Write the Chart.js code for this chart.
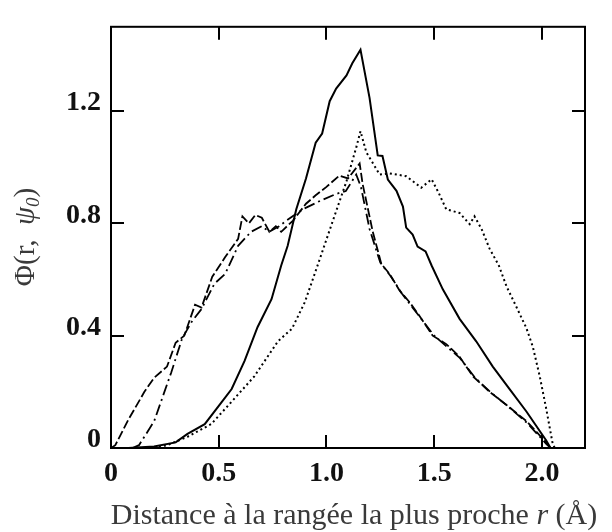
<!DOCTYPE html>
<html>
<head>
<meta charset="utf-8">
<script src="https://cdn.jsdelivr.net/npm/chart.js@4.4.0/dist/chart.umd.min.js"></script>
<style>
  html, body { margin: 0; padding: 0; background: #fff; }
  #wrap { width: 612px; height: 532px; }
</style>
</head>
<body>
<div id="wrap"><canvas id="myChart" width="612" height="532"></canvas></div>
<script>
// axis ticks
const xTicks = [0, 0.5, 1.0, 1.5, 2.0];
const xTickLabels = ['0', '0.5', '1.0', '1.5', '2.0'];
const yTicks = [0, 0.4, 0.8, 1.2];
const yTickLabels = ['0', '0.4', '0.8', '1.2'];

// solid curve, tallest peak
const xTall = [0.08, 0.2, 0.3, 0.355, 0.435, 0.51, 0.56, 0.62, 0.68, 0.745, 0.79, 0.82, 0.86, 0.905, 0.95, 0.98, 1.015, 1.045, 1.093, 1.12, 1.158, 1.2, 1.238, 1.26, 1.285, 1.325, 1.355, 1.37, 1.4, 1.423, 1.46, 1.488, 1.54, 1.618, 1.695, 1.772, 1.85, 1.928, 2.02, 2.04];
const yTall = [0, 0.005, 0.02, 0.05, 0.085, 0.16, 0.21, 0.31, 0.43, 0.53, 0.65, 0.72, 0.85, 0.96, 1.087, 1.12, 1.235, 1.28, 1.327, 1.37, 1.418, 1.247, 1.042, 1.04, 0.956, 0.916, 0.86, 0.785, 0.76, 0.717, 0.7, 0.65, 0.565, 0.46, 0.38, 0.29, 0.21, 0.13, 0.027, 0];

// dotted curve
const xDot = [0.2, 0.26, 0.355, 0.465, 0.56, 0.665, 0.775, 0.84, 0.9, 0.97, 1.03, 1.093, 1.14, 1.158, 1.185, 1.247, 1.293, 1.37, 1.44, 1.488, 1.52, 1.556, 1.618, 1.665, 1.687, 1.72, 1.757, 1.8, 1.836, 1.88, 1.928, 1.958, 1.99, 2.02, 2.05, 2.06];
const yDot = [0, 0.01, 0.04, 0.085, 0.165, 0.255, 0.38, 0.425, 0.52, 0.675, 0.81, 0.95, 1.075, 1.128, 1.053, 0.974, 0.978, 0.968, 0.927, 0.957, 0.91, 0.85, 0.837, 0.797, 0.825, 0.78, 0.71, 0.65, 0.575, 0.505, 0.427, 0.36, 0.255, 0.14, 0.015, 0];

// dashed curve from the origin
const xDash = [0, 0.02, 0.08, 0.155, 0.2, 0.26, 0.3, 0.34, 0.39, 0.42, 0.47, 0.53, 0.59, 0.61, 0.64, 0.67, 0.7, 0.735, 0.765, 0.79, 0.845, 0.905, 0.95, 1.0, 1.06, 1.1, 1.154, 1.168, 1.215, 1.255, 1.293, 1.34, 1.385, 1.432, 1.493, 1.556, 1.618, 1.68, 1.757, 1.836, 1.928, 2.02, 2.04];
const yDash = [0, 0.01, 0.1, 0.2, 0.25, 0.29, 0.375, 0.4, 0.51, 0.5, 0.61, 0.68, 0.745, 0.825, 0.8, 0.83, 0.82, 0.77, 0.79, 0.77, 0.81, 0.87, 0.9, 0.93, 0.97, 0.96, 1.013, 0.94, 0.77, 0.655, 0.62, 0.56, 0.52, 0.47, 0.4, 0.37, 0.325, 0.255, 0.2, 0.153, 0.096, 0.02, 0];

// dash-dot curve
const xDashDot = [0.1, 0.13, 0.2, 0.28, 0.33, 0.375, 0.42, 0.48, 0.53, 0.59, 0.65, 0.7, 0.735, 0.78, 0.815, 0.89, 0.97, 1.045, 1.09, 1.138, 1.16, 1.2, 1.25, 1.3, 1.35, 1.4, 1.45, 1.5, 1.56, 1.62, 1.69, 1.76, 1.84, 1.93, 2.02, 2.04];
const yDashDot = [0, 0.01, 0.095, 0.27, 0.39, 0.45, 0.495, 0.585, 0.62, 0.72, 0.77, 0.79, 0.77, 0.79, 0.81, 0.85, 0.88, 0.905, 0.915, 0.974, 0.93, 0.78, 0.66, 0.61, 0.55, 0.5, 0.45, 0.4, 0.36, 0.32, 0.25, 0.2, 0.15, 0.09, 0.015, 0];

function puntos(xs, ys) {
    return xs.map((x, i) => ({ x: x, y: ys[i] }));
}

const SERIF = '"Liberation Serif", "Times New Roman", serif';

// frame, inward ticks and the two axis titles
const marco = {
    id: 'marco',
    afterDraw(chart) {
        const c = chart.ctx;
        const a = chart.chartArea;
        const sx = chart.scales.x;
        const sy = chart.scales.y;
        const len = 13;
        c.save();
        c.strokeStyle = '#000';
        c.lineWidth = 2;
        c.strokeRect(a.left, a.top, a.right - a.left, a.bottom - a.top);
        c.beginPath();
        xTicks.forEach(v => {
            const px = Math.round(sx.getPixelForValue(v));
            c.moveTo(px, a.bottom); c.lineTo(px, a.bottom - len);
            c.moveTo(px, a.top); c.lineTo(px, a.top + len);
        });
        yTicks.forEach(v => {
            const py = Math.round(sy.getPixelForValue(v));
            c.moveTo(a.left, py); c.lineTo(a.left + len, py);
            c.moveTo(a.right, py); c.lineTo(a.right - len, py);
        });
        c.stroke();

        // x title
        c.fillStyle = '#3a3a3a';
        c.textBaseline = 'alphabetic';
        const partes = [
            ['Distance à la rangée la plus proche ', '30px ' + SERIF],
            ['r', 'italic 30px ' + SERIF],
            [' (Å)', '30px ' + SERIF]
        ];
        let total = 0;
        partes.forEach(p => { c.font = p[1]; total += c.measureText(p[0]).width; });
        let x = 354 - total / 2;
        partes.forEach(p => {
            c.font = p[1];
            c.fillText(p[0], x, 524);
            x += c.measureText(p[0]).width;
        });

        // y title, rotated
        c.translate(34, 237);
        c.rotate(-Math.PI / 2);
        const ypartes = [
            ['Φ(r,  ', '29px ' + SERIF, 0],
            ['ψ', 'italic 29px ' + SERIF, 0],
            ['0', 'italic 19px ' + SERIF, 5],
            [')', '29px ' + SERIF, 0]
        ];
        let ytotal = 0;
        ypartes.forEach(p => { c.font = p[1]; ytotal += c.measureText(p[0]).width; });
        let yx = -ytotal / 2;
        ypartes.forEach(p => {
            c.font = p[1];
            c.fillText(p[0], yx, p[2]);
            yx += c.measureText(p[0]).width;
        });
        c.restore();
    }
};

const lineaBase = {
    fill: false,
    pointRadius: 0,
    tension: 0,
    borderColor: '#000'
};

ctx = document.getElementById('myChart').getContext('2d');
new Chart(ctx, {
    type: 'line',
    data: {
        datasets: [
            Object.assign({ label: 'tall', data: puntos(xTall, yTall), borderWidth: 2 }, lineaBase),
            Object.assign({ label: 'dotted', data: puntos(xDot, yDot), borderWidth: 2, borderDash: [2, 3] }, lineaBase),
            Object.assign({ label: 'dashed', data: puntos(xDash, yDash), borderWidth: 1.8, borderDash: [9, 3] }, lineaBase),
            Object.assign({ label: 'dashdot', data: puntos(xDashDot, yDashDot), borderWidth: 1.8, borderDash: [11, 4, 2, 4] }, lineaBase)
        ]
    },
    options: {
        responsive: false,
        animation: false,
        layout: { padding: { left: 0, top: 10, right: 27, bottom: 0 } },
        plugins: {
            legend: { display: false },
            tooltip: { enabled: false }
        },
        scales: {
            x: {
                type: 'linear',
                min: 0,
                max: 2.2,
                afterFit: s => { s.height = 84; },
                afterBuildTicks: s => { s.ticks = xTicks.map(v => ({ value: v })); },
                grid: { display: false, drawTicks: false, tickLength: 0 },
                border: { display: false },
                ticks: {
                    padding: 9,
                    maxRotation: 0,
                    color: '#111',
                    font: { family: SERIF, size: 28, weight: 'bold' },
                    callback: v => xTickLabels[xTicks.indexOf(v)]
                }
            },
            y: {
                type: 'linear',
                min: 0,
                max: 1.5,
                afterFit: s => { s.width = 111; },
                afterBuildTicks: s => { s.ticks = yTicks.map(v => ({ value: v })); },
                grid: { display: false, drawTicks: false, tickLength: 0 },
                border: { display: false },
                ticks: {
                    padding: 10,
                    labelOffset: -8,
                    color: '#111',
                    font: { family: SERIF, size: 28, weight: 'bold' },
                    callback: v => yTickLabels[yTicks.indexOf(v)]
                }
            }
        }
    },
    plugins: [marco]
});
</script>
</body>
</html>
